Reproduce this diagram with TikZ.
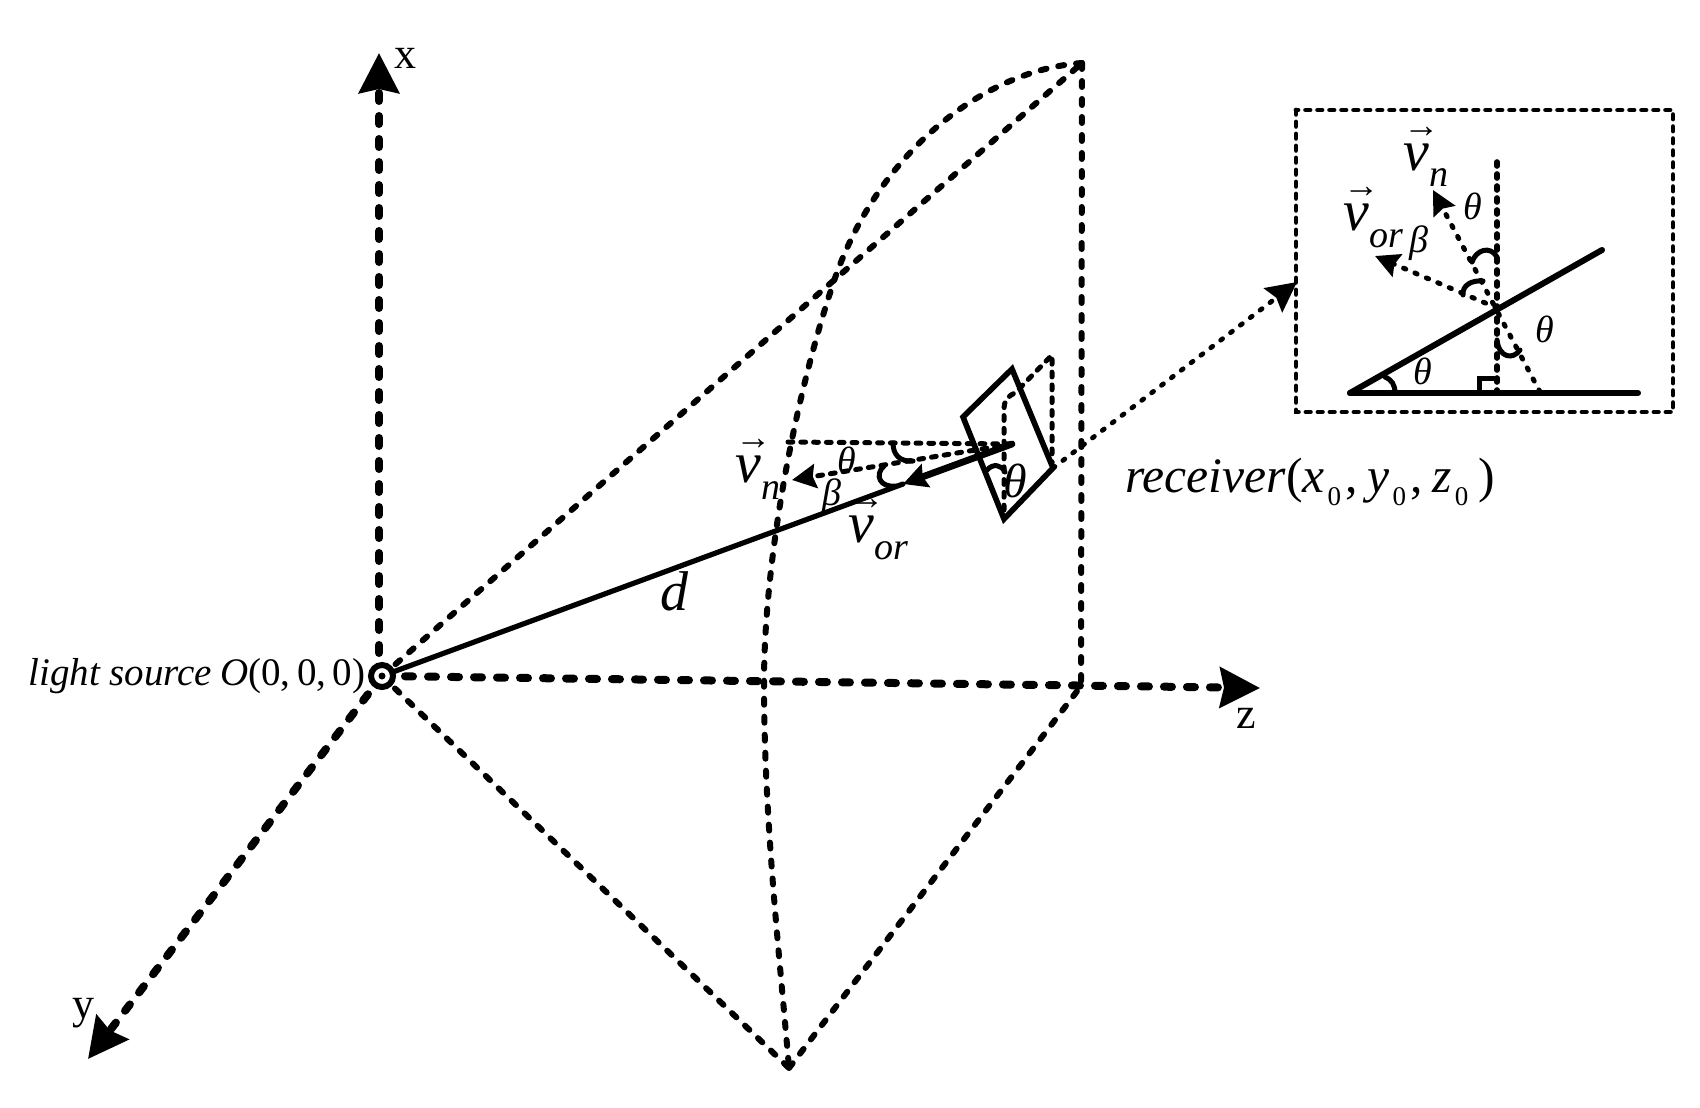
\documentclass[tikz,border=0pt]{standalone}
\usepackage{fontspec}
\setmainfont{Liberation Serif}
\usetikzlibrary{arrows.meta}
\newcommand{\fs}[1]{\fontsize{#1}{#1}\selectfont}
% vector label: #1 subscript text
\newcommand{\vlab}[1]{\rlap{\raisebox{16.5pt}{\fs{18}\symbol{"2192}}}\textit{v}\raisebox{-8.5pt}{\fs{19}\textit{#1}}}
\tikzset{
  axis/.style={line width=4pt,dash pattern=on 4pt off 7.5pt,line cap=round,-{Stealth[length=20pt,width=20pt,inset=2pt]}},
  guide/.style={line width=3pt,dash pattern=on 3pt off 6pt,line cap=round},
  inner/.style={line width=2.5pt,dash pattern=on 2.4pt off 4pt,line cap=round},
  fine/.style={line width=2.4pt,dash pattern=on 1.2pt off 5pt,line cap=round},
  solidl/.style={line width=2.6pt,line cap=round,line join=miter},
  hook/.style={line width=2.5pt,line cap=round},
  tip/.style={-{Stealth[length=12pt,width=12pt,inset=1.5pt]}},
  lab/.style={inner sep=0pt,font=\fs{19}},
  axl/.style={inner sep=0pt,font=\fs{22}},
  big/.style={inner sep=0pt,font=\fs{29}},
}
\begin{document}
\begin{tikzpicture}[x=0.5pt,y=-0.5pt]
\useasboundingbox (0,0) rectangle (1700,1107);
\coordinate (O) at (382,676);
\coordinate (Ox) at (379,676);
\coordinate (X) at (379,53);
\coordinate (Z) at (1260,688);
\coordinate (Y) at (88,1059);
\coordinate (T) at (1082,63);
\coordinate (F) at (1081,686);
\coordinate (B) at (789,1068);
\coordinate (R1) at (1012,369);
\coordinate (R2) at (963,417);
\coordinate (R3) at (1004,519);
\coordinate (R4) at (1053,468);
\coordinate (C) at (1012,444);
\coordinate (VO) at (903,484);
\coordinate (VN) at (792,480);
\coordinate (HL) at (788,442);
\coordinate (Bx) at (1297,282);
% axes
\draw[axis] (Ox) -- (X);
\draw[axis] (O) -- (Z);
\draw[axis] (O) -- (Y);
% cone
\draw[guide] (O) -- (T);
\draw[guide] (T) -- (F);
\draw[guide] (O) -- (B);
\draw[guide] (B) -- (F);
\draw[guide] (T) .. controls (985,70) and (880,150) .. (835,278)
  .. controls (795,395) and (764,560) .. (764,683)
  .. controls (764,820) and (780,960) .. (B);
% receiver
\draw[solidl] (O) -- (VO);
\draw[solidl,line width=3.4pt,tip] (C) -- (VO);
\draw[solidl,line width=2.8pt] (R1) -- (R2) -- (R3) -- (R4) -- cycle;
\draw[inner] (HL) -- (C);
\draw[inner,tip] (C) -- (VN);
\draw[inner] (1004,510) -- (1004,410) .. controls (1004,400) and (1008,396) .. (1015,393) -- (1052,355) -- (1052,463);
\draw[hook] (893,443) .. controls (893,455) and (900,462) .. (913,461);
\draw[hook] (884,466) .. controls (874,475) and (880,488) .. (896,486);
\draw[hook] (987,470) .. controls (993,463) and (1002,465) .. (1005,472);
\draw[fine,-{Stealth[length=15pt,width=15pt,inset=2pt]}] (R4) -- (Bx);
% inset
\draw[inner,line width=2.4pt,dash pattern=on 2.2pt off 3.8pt] (1296,110) rectangle (1673,412);
\coordinate (A) at (1350,393);
\coordinate (A2) at (1638,393);
\coordinate (S) at (1602,250);
\coordinate (I) at (1497,308);
\coordinate (I1) at (1497,162);
\coordinate (I2) at (1497,393);
\coordinate (G) at (1540,392);
\coordinate (IN) at (1433,190);
\coordinate (IO) at (1375,256);
\draw[solidl,line width=3pt] (A) -- (A2);
\draw[solidl,line width=3pt] (A) -- (S);
\draw[inner,line width=2.8pt,dash pattern=on 2pt off 4pt] (I1) -- (I2);
\draw[fine,tip,line width=2.5pt] (G) -- (IN);
\draw[fine,tip,line width=2.5pt] (I) -- (IO);
\draw[hook] (1472,262) .. controls (1476,250) and (1490,245) .. (1497,257);
\draw[hook] (1463,295) .. controls (1462,285) and (1472,280) .. (1483,281);
\draw[hook] (1497,340) .. controls (1499,358) and (1513,360) .. (1520,350);
\draw[hook] (1385,377) .. controls (1392,380) and (1395,385) .. (1395,393);
\draw[hook] (1479,392) -- (1479,378) -- (1497,378);
% origin
\draw[line width=3pt,fill=white] (O) circle (11);
\fill (O) circle (3.5);
% labels
\node[axl] (lx) at (405,58) {x};
\node[axl] (lz) at (1246,718) {z};
\node[axl] (ly) at (83,1013) {y};
\node[inner sep=0pt,anchor=base west,font=\fs{19.5}] (src) at (28,685) {\textit{light source}\hspace{4pt}\textit{O}(0,\,0,\,0)};
\node[inner sep=0pt,anchor=base,font=\fs{28}] (ld) at (675,610) {\textit{d}};
\node[inner sep=0pt,font=\fs{24.8},anchor=base west] (lrec) at (1125,492) {\textit{receiver}(\textit{x}\hspace{1.5pt}\raisebox{-6.5pt}{\fs{13.5}0}\hspace{2pt},\hspace{5pt}\textit{y}\hspace{1.5pt}\raisebox{-6.5pt}{\fs{13.5}0}\hspace{2pt},\hspace{5pt}\textit{z}\hspace{1.5pt}\raisebox{-6.5pt}{\fs{13.5}0}\hspace{5pt})};
\node[big,anchor=base west] (mvn) at (735,482) {\vlab{n}};
\node[big,anchor=base west] (mvo) at (848,542) {\vlab{or}};
\node[lab] (mt1) at (847,460) {\textit{θ}};
\node[lab] (mb) at (832,496) {\textit{β}};
\node[lab,font=\fs{24}] (mt2) at (1015,481) {\textit{θ}};
\node[big,anchor=base west] (ivn) at (1403,170) {\vlab{n}};
\node[big,anchor=base west] (ivo) at (1343,230) {\vlab{or}};
\node[lab] (it1) at (1473,206) {\textit{θ}};
\node[lab,font=\fs{19}] (ib) at (1419,243) {\textit{β}};
\node[lab] (it2) at (1545,329) {\textit{θ}};
\node[lab] (it3) at (1423,371) {\textit{θ}};
\end{tikzpicture}
\end{document}
